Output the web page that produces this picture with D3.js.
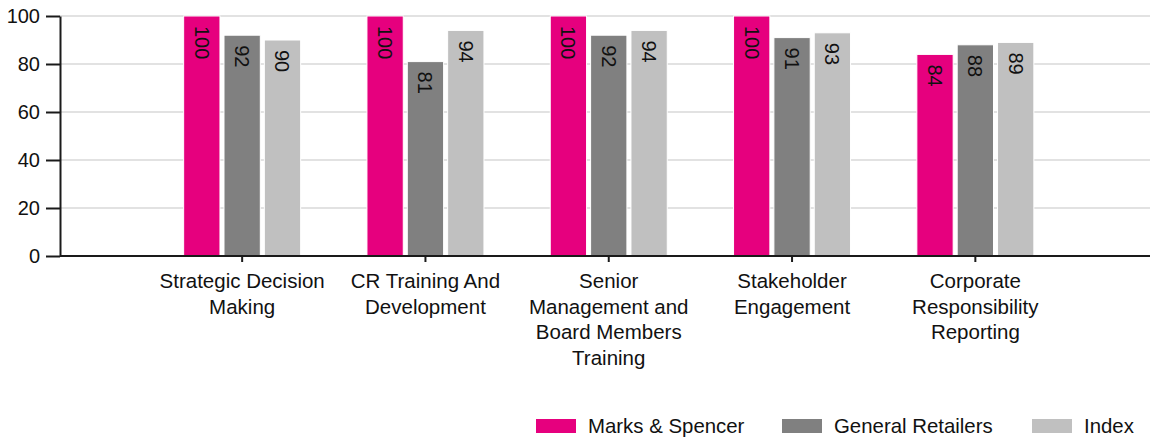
<!DOCTYPE html>
<html>
<head>
<meta charset="utf-8">
<script src="https://cdn.jsdelivr.net/npm/d3@7"></script>
<style>
    body { margin: 0; background: #fff; }
    svg { font-family: "Liberation Sans", Arial, sans-serif; }
    .axis path, .axis line { stroke: #1a1a1a; stroke-width: 2; }
    .axis text { font-size: 20px; fill: #111; }
    .grid line { stroke: #e2e2e2; stroke-width: 2; }
</style>
</head>
<body>
<svg id="chart" width="1150" height="441"></svg>
<script>
// Chart data
const categories = [
    ["Strategic Decision", "Making"],
    ["CR Training And", "Development"],
    ["Senior", "Management and", "Board Members", "Training"],
    ["Stakeholder", "Engagement"],
    ["Corporate", "Responsibility", "Reporting"]
];
const seriesNames = ["Marks & Spencer", "General Retailers", "Index"];
const marksSpencer = [100, 100, 100, 100, 84];
const generalRetailers = [92, 81, 92, 91, 88];
const indexValues = [90, 94, 94, 93, 89];
const yTicks = [0, 20, 40, 60, 80, 100];

const colors = ["#e6007e", "#808080", "#c0c0c0"];
const seriesValues = [marksSpencer, generalRetailers, indexValues];

const margin = {left: 60, top: 16, bottom: 256, right: 1150};
const svg = d3.select("#chart");

// Y Scale
const yScale = d3.scaleLinear()
    .domain([0, 100])
    .range([margin.bottom, margin.top]);

// X Scale (categories)
const catKeys = categories.map(d => d.join(" "));
const xScale = d3.scaleBand()
    .domain(catKeys)
    .range([150.5, 1067])
    .paddingInner(0)
    .paddingOuter(0);

// inner scale for the three bars of a group
const xInner = d3.scaleBand()
    .domain(seriesNames)
    .range([-58.5, 58.5])
    .paddingInner(0.1);

// gridlines
svg.append("g")
    .classed("grid", true)
    .selectAll("line")
    .data(yTicks.filter(d => d > 0))
    .join("line")
    .attr("x1", margin.left)
    .attr("x2", margin.right)
    .attr("y1", d => yScale(d))
    .attr("y2", d => yScale(d));

// bars
const groups = svg.append("g")
    .selectAll("g")
    .data(catKeys)
    .join("g")
    .attr("transform", d => `translate(${xScale(d) + xScale.bandwidth() / 2}, 0)`);

groups.each(function(cat, i) {
    const g = d3.select(this);
    const rows = seriesNames.map((s, j) => ({series: s, value: seriesValues[j][i], color: colors[j]}));

    g.selectAll("rect")
        .data(rows)
        .join("rect")
        .attr("x", d => xInner(d.series))
        .attr("width", xInner.bandwidth())
        .attr("y", d => yScale(d.value))
        .attr("height", d => yScale(0) - yScale(d.value))
        .attr("fill", d => d.color)
        .attr("stroke", "#fff")
        .attr("stroke-width", 1);

    g.selectAll("text")
        .data(rows)
        .join("text")
        .attr("transform", d => `translate(${xInner(d.series) + xInner.bandwidth() / 2}, ${yScale(d.value) + 10}) rotate(90)`)
        .attr("dominant-baseline", "central")
        .attr("font-size", "20px")
        .attr("fill", "#111")
        .text(d => d.value);
});

// Y axis
svg.append("g")
    .classed("axis", true)
    .attr("transform", `translate(${margin.left}, 0)`)
    .call(d3.axisLeft(yScale).tickValues(yTicks).tickSize(14).tickPadding(6).tickSizeOuter(0));

// X axis
const xAxis = svg.append("g")
    .classed("axis", true)
    .attr("transform", `translate(0, ${margin.bottom})`);

xAxis.append("line")
    .attr("x1", margin.left)
    .attr("x2", margin.right);

xAxis.selectAll(".tick")
    .data(catKeys)
    .join("line")
    .attr("x1", d => xScale(d) + xScale.bandwidth() / 2)
    .attr("x2", d => xScale(d) + xScale.bandwidth() / 2)
    .attr("y1", 0)
    .attr("y2", 6);

xAxis.selectAll("text")
    .data(categories)
    .join("text")
    .attr("text-anchor", "middle")
    .style("font-size", "20.5px")
    .attr("x", (d, i) => xScale(catKeys[i]) + xScale.bandwidth() / 2)
    .attr("y", 32)
    .each(function(lines) {
        const t = d3.select(this);
        lines.forEach((line, k) => {
            t.append("tspan")
                .attr("x", t.attr("x"))
                .attr("dy", k === 0 ? 0 : 25.5)
                .text(line);
        });
    });

// legend
const legendX = [536, 782, 1032];
const legend = svg.append("g")
    .selectAll("g")
    .data(seriesNames)
    .join("g")
    .attr("transform", (d, i) => `translate(${legendX[i]}, 419)`);

legend.append("rect")
    .attr("width", 40)
    .attr("height", 14)
    .attr("fill", (d, i) => colors[i]);

legend.append("text")
    .attr("x", 52)
    .attr("y", 14)
    .attr("font-size", "20.4px")
    .attr("fill", "#111")
    .text(d => d);
</script>
</body>
</html>
